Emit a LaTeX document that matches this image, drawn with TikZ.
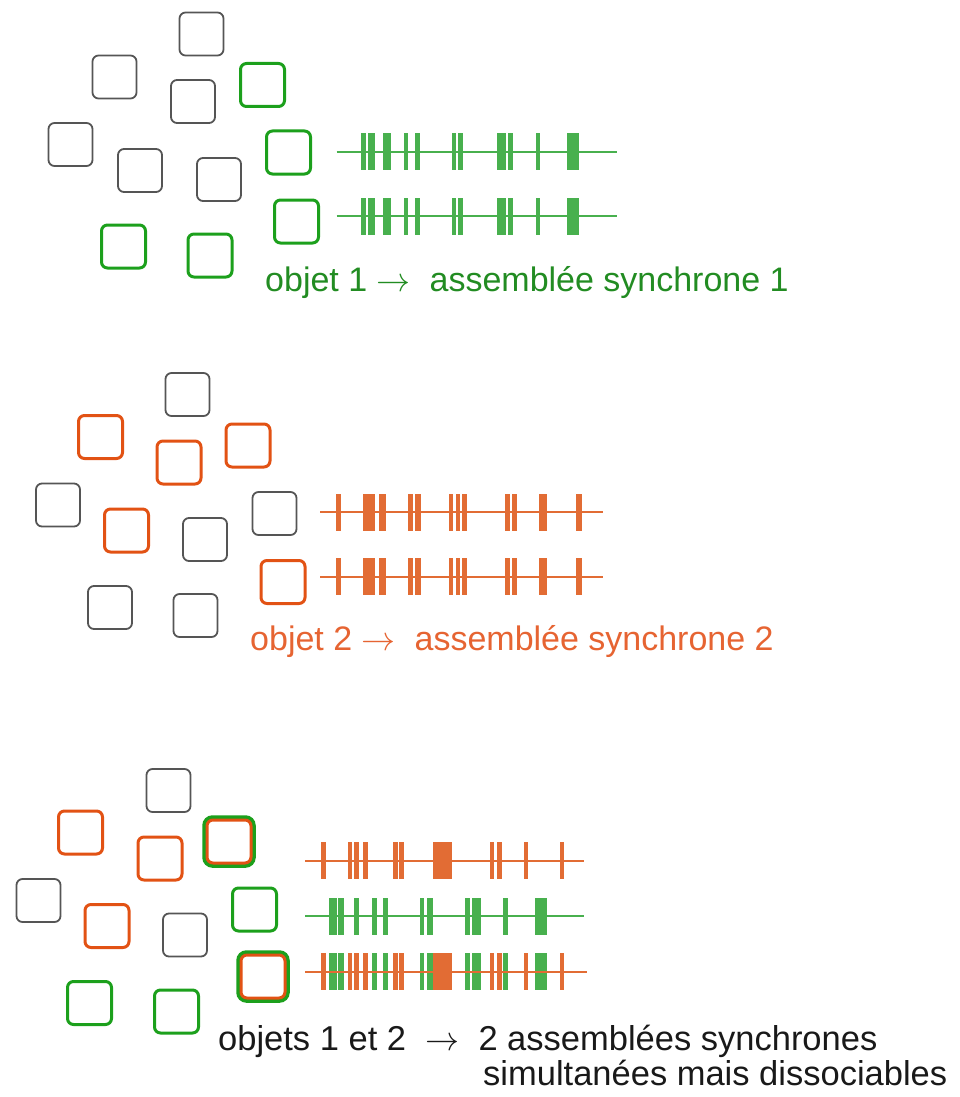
\documentclass[tikz,border=0pt]{standalone}
\usepackage{fontspec}
\usepackage{graphicx}
\setmainfont{Liberation Sans}
\definecolor{boxgreen}{RGB}{28,160,28}
\definecolor{spkgreen}{RGB}{72,176,78}
\definecolor{txtgreen}{RGB}{34,140,34}
\definecolor{boxorange}{RGB}{226,82,20}
\definecolor{spkorange}{RGB}{226,108,52}
\definecolor{txtorange}{RGB}{230,100,50}
\definecolor{boxgray}{RGB}{85,85,85}
\definecolor{txtdark}{RGB}{25,25,25}
\newcommand{\bigarrow}{{\fontsize{10}{12}\selectfont\scalebox{3.4}{$\rightarrow$}}}
\newcommand{\spiketrain}[5]{%
  \draw[#1, line width=2pt] (#3,#2) -- (#4,#2);
  \foreach \a/\b in #5 \fill[#1] (\a,#2-18.5) rectangle (\b,#2+18.5);
}
\newcommand{\spikesonly}[3]{%
  \foreach \a/\b in #3 \fill[#1] (\a,#2-18.5) rectangle (\b,#2+18.5);
}
\tikzset{
  cellbox/.style={draw, rounded corners=6pt, minimum width=44pt, minimum height=43pt, inner sep=0pt, line width=1.8pt},
  graybox/.style={cellbox, draw=boxgray},
  greenbox/.style={cellbox, draw=boxgreen, line width=3pt},
  orangebox/.style={cellbox, draw=boxorange, line width=3pt},
  haloBox/.style={cellbox, draw=boxgreen, line width=4.5pt, minimum width=49pt, minimum height=48pt, rounded corners=8pt},
  label/.style={anchor=base west, inner sep=0pt, font=\fontsize{34}{40}\selectfont},
}
\begin{document}
\begin{tikzpicture}[x=1pt,y=-1pt]
\useasboundingbox (0,0) rectangle (960,1097);
% ---------- panel 1 ----------
\node[graybox]  (a1)  at (201.5,34) {};
\node[graybox]  (a2)  at (114.5,77) {};
\node[greenbox] (a3)  at (262.5,85) {};
\node[graybox]  (a4)  at (193,101.5) {};
\node[graybox]  (a5)  at (70.5,144.5) {};
\node[greenbox] (a6)  at (288.5,152.5) {};
\node[graybox]  (a7)  at (140,170.5) {};
\node[graybox]  (a8)  at (219,179.5) {};
\node[greenbox] (a9)  at (296.5,221.5) {};
\node[greenbox] (a10) at (123.5,246.5) {};
\node[greenbox] (a11) at (210,255.5) {};
\def\trainA{361/365.7, 367.7/375, 383.3/390.7, 404/408.3, 415.3/420, 451.7/456, 458.3/463.3, 496.7/506, 508.3/513.3, 535.7/540, 567.3/578.7}
\spiketrain{spkgreen}{151.7}{336.7}{616.7}{\trainA}
\spiketrain{spkgreen}{216}{336.7}{616.7}{\trainA}
\node[label, text=txtgreen] (t1) at (265,291.5) {objet 1 \bigarrow\ \ assemblée synchrone 1};
% ---------- panel 2 ----------
\node[graybox]   (b1)  at (187.5,394.5) {};
\node[orangebox] (b2)  at (100.5,437) {};
\node[orangebox] (b3)  at (179,462.5) {};
\node[orangebox] (b4)  at (248,445.5) {};
\node[graybox]   (b5)  at (58,505) {};
\node[graybox]   (b6)  at (274.5,513.5) {};
\node[orangebox] (b7)  at (126.5,530.5) {};
\node[graybox]   (b8)  at (205,539.5) {};
\node[orangebox] (b9)  at (283,582) {};
\node[graybox]   (b10) at (110,607.5) {};
\node[graybox]   (b11) at (195.5,615.5) {};
\def\trainB{336/340.7, 363.3/375, 378.7/386, 408.3/413.3, 415/421, 449/453.3, 455.7/460, 462.3/466.7, 505.3/510, 511.7/516.7, 539.3/546.7, 575.7/582.3}
\spiketrain{spkorange}{512.3}{320}{602.7}{\trainB}
\spiketrain{spkorange}{576.7}{320}{602.7}{\trainB}
\node[label, text=txtorange] (t2) at (250,650.5) {objet 2 \bigarrow\ \ assemblée synchrone 2};
% ---------- panel 3 ----------
\node[graybox]   (c1)  at (168.5,790.5) {};
\node[orangebox] (c2)  at (80.5,832.5) {};
\node[orangebox] (c3)  at (160,858.5) {};
\node[haloBox]   (c4)  at (229,841.5) {};
\node[orangebox] (c4i) at (229,841.5) {};
\node[graybox]   (c5)  at (38.5,900.5) {};
\node[greenbox]  (c6)  at (254.5,909.5) {};
\node[orangebox] (c7)  at (107,926) {};
\node[graybox]   (c8)  at (185,935) {};
\node[haloBox]   (c9)  at (263,976.5) {};
\node[orangebox] (c9i) at (263,976.5) {};
\node[greenbox]  (c10) at (89.5,1003) {};
\node[greenbox]  (c11) at (176.5,1011.5) {};
\def\trainO{320.7/325.7, 347.7/352.3, 354.3/359, 363.3/368.3, 392.7/397.7, 399.3/404.3, 433.3/451.7, 490/494.3, 497/501.7, 524/528.3, 560/564.3}
\def\trainG{329.3/336.7, 338.3/344, 354.3/359, 372.3/376.7, 383.3/388.3, 420/424.3, 426.7/433.3, 465.3/470, 471.7/481, 503.3/508.3, 535/546.7}
\spiketrain{spkorange}{860.7}{305}{584.3}{\trainO}
\spiketrain{spkgreen}{916}{305}{584.3}{\trainG}
\spikesonly{spkgreen}{971.7}{\trainG}
\spiketrain{spkorange}{971.7}{305}{587}{\trainO}
\node[label, text=txtdark, font=\fontsize{34.5}{40}\selectfont] (t3) at (218,1050.7) {objets 1 et 2 \ \bigarrow\ \ 2 assemblées synchrones};
\node[label, text=txtdark, font=\fontsize{34.5}{40}\selectfont] (t3b) at (483,1085) {simultanées mais dissociables};
\end{tikzpicture}
\end{document}
